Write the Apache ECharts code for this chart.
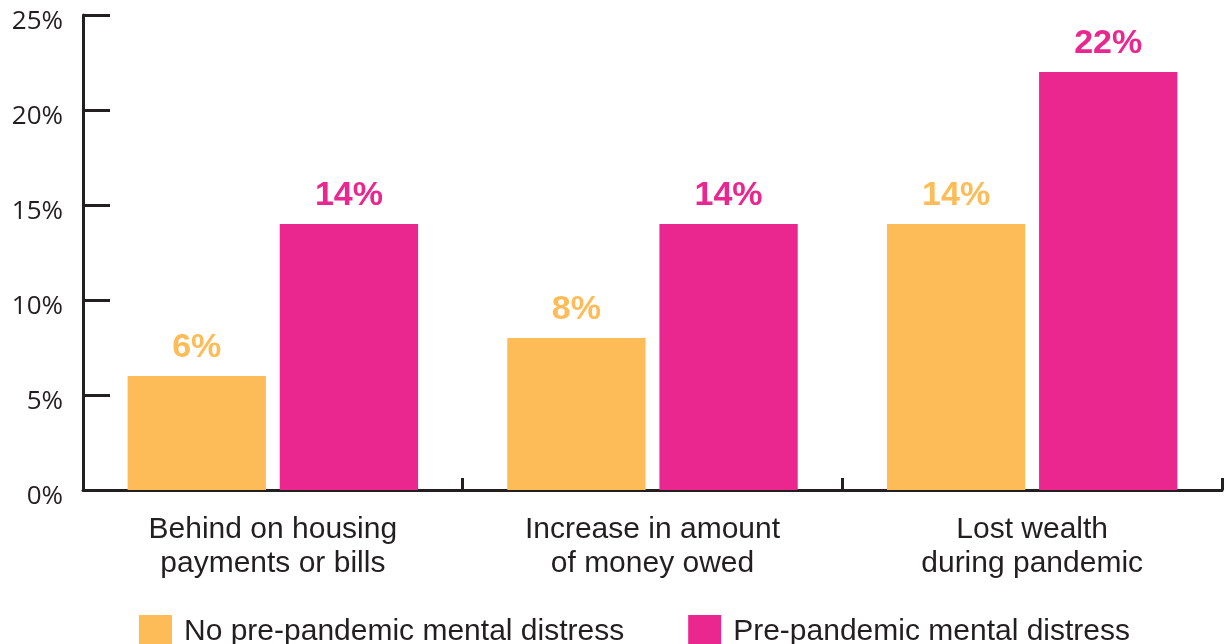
<!DOCTYPE html>
<html>
<head>
<meta charset="utf-8">
<script src="https://cdn.jsdelivr.net/npm/echarts@6/dist/echarts.min.js"></script>
<style>
  html, body { margin: 0; padding: 0; background: #fff; }
  #chart { width: 1226px; height: 644px; }
</style>
</head>
<body>
<div id="chart"></div>
<script>
// Share of adults reporting each financial hardship, by mental distress before the pandemic
const categories = [
  'Behind on housing\npayments or bills',
  'Increase in amount\nof money owed',
  'Lost wealth\nduring pandemic'
];
const seriesNames = ['No pre-pandemic mental distress', 'Pre-pandemic mental distress'];
const noDistress = [6, 8, 14];
const withDistress = [14, 14, 22];
const yTicks = [0, 5, 10, 15, 20, 25];

const ink = '#231f20';
const yellow = '#FDBC58';
const magenta = '#EA268F';

const chart = echarts.init(document.getElementById('chart'));

function barSeries(name, values, color) {
  return {
    name: name,
    type: 'bar',
    data: values,
    barGap: '10%',
    barCategoryGap: '23.5%',
    itemStyle: { color: color },
    label: {
      show: true,
      position: 'top',
      distance: 11,
      formatter: '{c}%',
      color: color,
      fontFamily: 'Liberation Sans',
      fontWeight: 'bold',
      fontSize: 34
    }
  };
}

chart.setOption({
  animation: false,
  backgroundColor: '#ffffff',
  grid: { left: 83, right: 4, top: 15, bottom: 154, containLabel: false },
  legend: {
    left: 134,
    top: 610,
    itemWidth: 33,
    itemHeight: 33,
    itemGap: 64,
    icon: 'rect',
    data: seriesNames,
    textStyle: {
      color: ink,
      fontFamily: 'Liberation Sans',
      fontSize: 30,
      padding: [0, 0, 0, 7]
    }
  },
  xAxis: {
    type: 'category',
    data: categories,
    axisLine: { show: true, lineStyle: { color: ink, width: 3 } },
    axisTick: { show: true, inside: true, length: 12, lineStyle: { color: ink, width: 3 } },
    axisLabel: {
      color: ink,
      fontFamily: 'Liberation Sans',
      fontSize: 30,
      lineHeight: 34,
      margin: 23
    },
    splitLine: { show: false }
  },
  yAxis: {
    type: 'value',
    min: yTicks[0],
    max: yTicks[yTicks.length - 1],
    interval: yTicks[1] - yTicks[0],
    axisLine: { show: true, lineStyle: { color: ink, width: 3 } },
    axisTick: { show: true, inside: true, length: 27, lineStyle: { color: ink, width: 3 } },
    axisLabel: {
      color: ink,
      fontFamily: 'Open Sans',
      fontSize: 26,
      margin: 20,
      verticalAlign: 'top',
      lineHeight: 14,
      formatter: '{value}%'
    },
    splitLine: { show: false }
  },
  series: [
    barSeries(seriesNames[0], noDistress, yellow),
    barSeries(seriesNames[1], withDistress, magenta)
  ]
});
</script>
</body>
</html>
